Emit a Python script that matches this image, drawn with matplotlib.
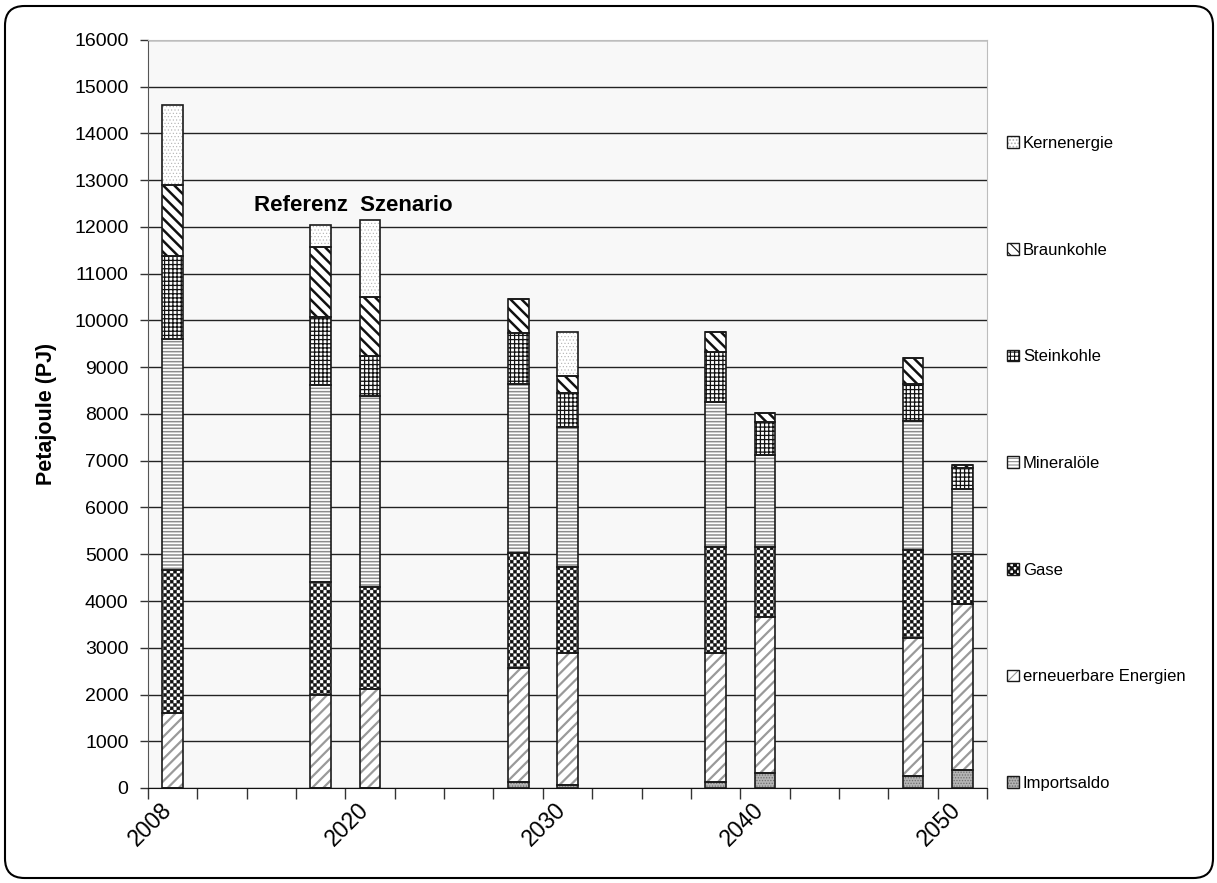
import numpy as np
import matplotlib
matplotlib.use('Agg')
import matplotlib.pyplot as plt
import matplotlib.hatch as mhatch
import matplotlib.transforms as mtransforms
from matplotlib.path import Path
from matplotlib.patches import Patch, FancyBboxPatch

# Daten (Petajoule)
balken = ['2008', '2020 Referenz', '2020 Szenario', '2030 Referenz', '2030 Szenario',
          '2040 Referenz', '2040 Szenario', '2050 Referenz', '2050 Szenario']
positionen = [0, 3, 4, 7, 8, 11, 12, 15, 16]
importsaldo = [0, 0, 0, 120, 60, 135, 330, 260, 385]
erneuerbare = [1600, 2000, 2120, 2440, 2820, 2745, 3335, 2940, 3545]
gase = [3070, 2400, 2170, 2460, 1840, 2280, 1500, 1890, 1070]
mineraloele = [4930, 4230, 4100, 3615, 3010, 3100, 1960, 2760, 1390]
steinkohle = [1780, 1450, 860, 1090, 710, 1070, 710, 785, 450]
braunkohle = [1520, 1490, 1260, 735, 380, 430, 180, 555, 70]
kernenergie = [1700, 480, 1640, 0, 940, 0, 0, 0, 0]

jahre = ['2008', '2020', '2030', '2040', '2050']
jahr_pos = [0, 4, 8, 12, 16]


# Schachbrett-Schraffur (ersetzt das Zeichen '*')
class CheckerHatch(mhatch.HatchPatternBase):
    def __init__(self, hatch, density):
        self.n = int(hatch.count('*') * density)
        if self.n % 2:
            self.n += 1
        self.num_vertices = (self.n * self.n // 2) * 5 if self.n else 0

    def set_vertices_and_codes(self, vertices, codes):
        n = self.n
        s = 1.0 / n
        d = 0.06 * s
        k = 0
        for i in range(n):
            for j in range(n):
                if (i + j) % 2 == 0:
                    x0, y0 = i * s + d, j * s + d
                    x1, y1 = (i + 1) * s - d, (j + 1) * s - d
                    vertices[k:k + 5] = [(x0, y0), (x1, y0), (x1, y1), (x0, y1), (x0, y0)]
                    codes[k] = Path.MOVETO
                    codes[k + 1:k + 4] = Path.LINETO
                    codes[k + 4] = Path.CLOSEPOLY
                    k += 5


mhatch._hatch_types = [h for h in mhatch._hatch_types if h is not mhatch.Stars]
mhatch._hatch_types.append(CheckerHatch)

plt.rcParams['font.family'] = ['Liberation Sans', 'DejaVu Sans']
plt.rcParams['hatch.linewidth'] = 0.8

# Serien: (Name, Werte, Schraffur, Schraffurfarbe, Füllfarbe, Linienbreite)
serien = [
    ('Importsaldo', importsaldo, '......', '#6f6f6f', '#b4b4b4', 0.6),
    ('erneuerbare Energien', erneuerbare, '///', '#9a9a9a', 'white', 1.6),
    ('Gase', gase, '*****', '#111111', 'white', 0.4),
    ('Mineralöle', mineraloele, '-----', '#8c8c8c', 'white', 1.1),
    ('Steinkohle', steinkohle, '++++', '#111111', 'white', 0.9),
    ('Braunkohle', braunkohle, '\\\\\\', '#111111', 'white', 1.8),
    ('Kernenergie', kernenergie, '.....', '#b0b0b0', 'white', 0.4),
]

fig = plt.figure(figsize=(12.17, 8.83), dpi=100)
ax = fig.add_axes([148 / 1217, 95 / 883, (987 - 148) / 1217, (788 - 40) / 883])
ax.set_facecolor('#f8f8f8')

breite = 0.42
unten = np.zeros(len(positionen))
handles = []
for name, werte, hatch, hfarbe, ffarbe, hlw in serien:
    werte = np.array(werte, dtype=float)
    b = ax.bar(positionen, werte, breite, bottom=unten, color=ffarbe,
               edgecolor=hfarbe, hatch=hatch, linewidth=0, zorder=3)
    for p in b:
        if hasattr(p, 'set_hatch_linewidth'):
            p.set_hatch_linewidth(hlw)
    ax.bar(positionen, werte, breite, bottom=unten, color='none',
           edgecolor='#1a1a1a', linewidth=1.2, zorder=4)
    unten += werte
    h1 = Patch(facecolor=ffarbe, edgecolor=hfarbe, hatch=hatch, linewidth=0)
    if hasattr(h1, 'set_hatch_linewidth'):
        h1.set_hatch_linewidth(hlw)
    h2 = Patch(facecolor='none', edgecolor='#1a1a1a', linewidth=1.0)
    handles.append(((h1, h2), name))

# Achsen
ax.set_ylim(0, 16000)
ax.set_xlim(-0.5, 16.5)
ax.set_yticks(np.arange(0, 16001, 1000))
ax.tick_params(axis='y', labelsize=14, length=6, width=1, pad=8, color='#333333')
ax.yaxis.grid(True, color='#222222', linewidth=1.0, zorder=0)
ax.set_axisbelow(True)

ax.set_xticks(np.arange(-0.5, 17, 1))
ax.set_xticklabels([])
ax.tick_params(axis='x', which='major', length=8, width=1, color='#333333')
ax.set_xticks(jahr_pos, minor=True)
ax.set_xticklabels(jahre, minor=True, rotation=45, ha='right',
                   rotation_mode='anchor', fontsize=16.5)
ax.tick_params(axis='x', which='minor', length=0, pad=12)
verschiebung = mtransforms.ScaledTranslation(-13 / 100, 6 / 100, fig.dpi_scale_trans)
for lab in ax.get_xticklabels(minor=True):
    lab.set_transform(lab.get_transform() + verschiebung)

for s in ['top', 'right']:
    ax.spines[s].set_color('#bdbdbd')
ax.spines['left'].set_color('#555555')
ax.spines['bottom'].set_color('#111111')

ax.set_ylabel('Petajoule (PJ)', fontsize=15.5, fontweight='bold', labelpad=12)

ax.text(3.65, 12470, 'Referenz  Szenario', fontsize=16, fontweight='bold',
        ha='center', va='center', zorder=5)

# Legende rechts (umgekehrte Reihenfolge)
handles = handles[::-1]
leg = fig.legend([h for h, n in handles], [n for h, n in handles],
                 loc='upper left', bbox_to_anchor=(1007 / 1217, 1 - 136 / 883),
                 frameon=False, fontsize=12, labelspacing=5.5,
                 handlelength=0.7, handleheight=0.7, handletextpad=0.25,
                 borderpad=0, borderaxespad=0)

# Rahmen um das Diagramm
rahmen = FancyBboxPatch((5 / 1217, 5 / 883), 1208 / 1217, 872 / 883,
                        boxstyle='round,pad=0,rounding_size=0.016',
                        mutation_aspect=1217 / 883, transform=fig.transFigure,
                        facecolor='none', edgecolor='black', linewidth=1.5)
fig.patches.append(rahmen)

fig.savefig('out.png', dpi=100, facecolor='white')
